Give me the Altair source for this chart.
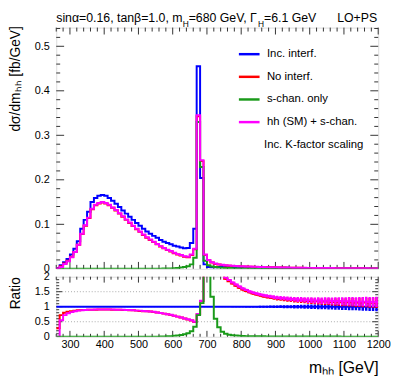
import altair as alt
import pandas as pd

FONT = "Liberation Sans"
BLUE, RED, GREEN, MAG = "#0000ff", "#ff0000", "#1a9a1a", "#ff00ff"
TICK = "#333333"

# ---------------- data ----------------
bin_lo = list(range(260, 1200, 10))   # lower bin edges, 10 GeV bins
x_hi = 1200

series = ["Inc. interf.", "No interf.", "s-chan. only", "hh (SM) + s-chan."]

# top panel, bins 260..700
inc_head = [0.002, 0.008, 0.015, 0.022, 0.032, 0.045, 0.062, 0.090, 0.110, 0.128,
            0.150, 0.159, 0.164, 0.166, 0.164, 0.159, 0.153, 0.146, 0.139, 0.131,
            0.124, 0.117, 0.110, 0.103, 0.097, 0.090, 0.084, 0.079, 0.074, 0.070,
            0.065, 0.061, 0.058, 0.055, 0.052, 0.050, 0.048, 0.046, 0.047, 0.058,
            0.090, 0.455, 0.204, 0.010, 0.004]
hh_head = [0.001, 0.004, 0.011, 0.017, 0.026, 0.038, 0.054, 0.079, 0.098, 0.115,
           0.135, 0.144, 0.148, 0.150, 0.148, 0.144, 0.138, 0.132, 0.125, 0.118,
           0.111, 0.104, 0.097, 0.090, 0.084, 0.077, 0.071, 0.066, 0.061, 0.056,
           0.051, 0.047, 0.043, 0.040, 0.036, 0.033, 0.031, 0.028, 0.027, 0.032,
           0.045, 0.345, 0.244, 0.032, 0.020]
noint_head = [0.001, 0.006, 0.012, 0.018, 0.027, 0.038, 0.054, 0.078, 0.097, 0.114,
              0.134, 0.143, 0.147, 0.149, 0.147, 0.143, 0.137, 0.131, 0.124, 0.117,
              0.110, 0.103, 0.096, 0.089, 0.083, 0.076, 0.070, 0.065, 0.060, 0.055,
              0.050, 0.046, 0.042, 0.039, 0.035, 0.032, 0.030, 0.027, 0.026, 0.031,
              0.044, 0.343, 0.242, 0.031, 0.019]
schan_head = [0.0, 0.0, 0.0, 0.0, 0.0, 0.0, 0.0, 0.0, 0.0, 0.0,
              0.0, 0.0, 0.0, 0.0, 0.0, 0.0, 0.0, 0.0, 0.0, 0.0,
              0.0, 0.0, 0.0, 0.0, 0.0, 0.0, 0.0, 0.0, 0.0, 0.0,
              0.0003, 0.0005, 0.0008, 0.001, 0.0015, 0.002, 0.003, 0.004, 0.006, 0.010,
              0.025, 0.330, 0.229, 0.018, 0.008]
# top panel, bins 710..1190
inc_tail = [0.0035, 0.0037, 0.0039, 0.0040, 0.0040, 0.0039, 0.0038, 0.0037, 0.0036, 0.0035,
            0.0034, 0.0033, 0.0032, 0.0031, 0.0030, 0.0029, 0.0028, 0.0027, 0.0026, 0.0025,
            0.0024, 0.0023, 0.0022, 0.0021, 0.0020, 0.0019, 0.0019, 0.0018, 0.0017, 0.0017,
            0.0016, 0.0015, 0.0015, 0.0014, 0.0014, 0.0013, 0.0013, 0.0012, 0.0012, 0.0011,
            0.0011, 0.0010, 0.0010, 0.0010, 0.0009, 0.0009, 0.0009, 0.0008, 0.0008]
hh_tail = [0.015, 0.012, 0.010, 0.009, 0.008, 0.0074, 0.0069, 0.0064, 0.0060, 0.0056,
           0.0053, 0.0050, 0.0047, 0.0045, 0.0042, 0.0040, 0.0038, 0.0036, 0.0034, 0.0033,
           0.0031, 0.0030, 0.0028, 0.0027, 0.0025, 0.0024, 0.0023, 0.0022, 0.0021, 0.0021,
           0.0020, 0.0019, 0.0018, 0.0017, 0.0017, 0.0016, 0.0015, 0.0015, 0.0014, 0.0013,
           0.0013, 0.0012, 0.0012, 0.0012, 0.0011, 0.0011, 0.0010, 0.0010, 0.0010]
noint_tail = [0.014, 0.011, 0.0095, 0.0085, 0.0077, 0.0071, 0.0066, 0.0062, 0.0058, 0.0054,
              0.0051, 0.0048, 0.0046, 0.0043, 0.0041, 0.0039, 0.0037, 0.0035, 0.0033, 0.0032,
              0.0030, 0.0029, 0.0027, 0.0026, 0.0024, 0.0023, 0.0022, 0.0021, 0.0021, 0.0020,
              0.0019, 0.0018, 0.0018, 0.0017, 0.0016, 0.0015, 0.0015, 0.0014, 0.0013, 0.0013,
              0.0012, 0.0012, 0.0011, 0.0011, 0.0011, 0.0010, 0.0010, 0.0009, 0.0009]
schan_tail = [0.005, 0.004, 0.003, 0.0025, 0.002, 0.0017, 0.0014, 0.0012, 0.0010, 0.0009,
              0.0008, 0.0007, 0.0006, 0.0005, 0.0005, 0.0004, 0.0004, 0.0004, 0.0003, 0.0003,
              0.0003, 0.0003, 0.0002, 0.0002, 0.0002, 0.0002, 0.0002, 0.0002, 0.0001, 0.0001,
              0.0001, 0.0001, 0.0001, 0.0001, 0.0001, 0.0001, 0.0001, 0.0001, 0.0001, 0.0001,
              0.0001, 0.0001, 0.0001, 0.0001, 0.0001, 0.0001, 0.0001, 0.0001, 0.0001]

# ratio panel (relative to Inc. interf.), bins 260..750
r_hh_head = [0.00, 0.55, 0.72, 0.78, 0.82, 0.85, 0.87, 0.88, 0.89, 0.90,
             0.90, 0.91, 0.91, 0.91, 0.91, 0.91, 0.91, 0.90, 0.90, 0.90,
             0.89, 0.89, 0.88, 0.87, 0.87, 0.86, 0.85, 0.84, 0.83, 0.81,
             0.79, 0.77, 0.75, 0.73, 0.70, 0.67, 0.64, 0.61, 0.58, 0.55,
             0.50, 0.76, 1.20, 3.2, 5.0, 4.3, 3.2, 2.6, 2.2, 1.97]
r_no_head = [0.28, 0.72, 0.80, 0.83, 0.85, 0.87, 0.88, 0.89, 0.89, 0.90,
             0.90, 0.90, 0.91, 0.91, 0.91, 0.91, 0.90, 0.90, 0.90, 0.89,
             0.89, 0.88, 0.88, 0.87, 0.86, 0.85, 0.85, 0.84, 0.82, 0.81,
             0.79, 0.77, 0.75, 0.72, 0.70, 0.67, 0.64, 0.61, 0.57, 0.54,
             0.49, 0.75, 1.19, 3.1, 5.0, 4.2, 3.1, 2.5, 2.1, 1.93]
r_s_head = [0.0, 0.0, 0.0, 0.0, 0.0, 0.0, 0.0, 0.0, 0.0, 0.0,
            0.0, 0.0, 0.0, 0.0, 0.0, 0.0, 0.0, 0.0, 0.0, 0.0,
            0.0, 0.0, 0.0, 0.0, 0.0, 0.0, 0.0, 0.0, 0.0, 0.0,
            0.01, 0.01, 0.02, 0.02, 0.03, 0.04, 0.06, 0.08, 0.12, 0.18,
            0.33, 0.72, 1.12, 4.0, 5.0, 1.33, 0.60, 0.32, 0.17, 0.10]
# ratio panel, bins 760..1190
r_hh_tail = [1.89, 1.81, 1.74, 1.67, 1.61, 1.56, 1.51, 1.47, 1.44, 1.41,
             1.38, 1.36, 1.34, 1.32, 1.30, 1.29, 1.28, 1.27, 1.26, 1.25,
             1.24, 1.24, 1.23, 1.22, 1.22, 1.21, 1.21, 1.20, 1.20, 1.20,
             1.19, 1.19, 1.19, 1.18, 1.18, 1.18, 1.18, 1.17, 1.17, 1.17,
             1.17, 1.16, 1.16, 1.16]
r_no_tail = [1.85, 1.77, 1.70, 1.63, 1.57, 1.52, 1.48, 1.44, 1.41, 1.38,
             1.35, 1.33, 1.31, 1.29, 1.27, 1.26, 1.25, 1.24, 1.23, 1.22,
             1.21, 1.21, 1.20, 1.19, 1.19, 1.18, 1.18, 1.17, 1.17, 1.17,
             1.16, 1.16, 1.16, 1.15, 1.15, 1.15, 1.15, 1.14, 1.14, 1.14,
             1.14, 1.13, 1.13, 1.13]
r_s_tail = [0.07, 0.05, 0.04, 0.03, 0.025, 0.02, 0.02, 0.018, 0.016, 0.015,
            0.014, 0.013, 0.012, 0.011, 0.010, 0.010, 0.009, 0.009, 0.008, 0.008,
            0.008, 0.007, 0.007, 0.007, 0.006, 0.006, 0.006, 0.006, 0.005, 0.005,
            0.005, 0.005, 0.005, 0.004, 0.004, 0.004, 0.004, 0.004, 0.004, 0.003,
            0.003, 0.003, 0.003, 0.003]
r_inc = [1.0] * 94

# statistical uncertainties on the ratios
err_inc_head = [0.003] * 40 + [0.005] * 10
err_inc_tail = [0.012, 0.014, 0.016, 0.018, 0.020, 0.022, 0.024, 0.026, 0.028, 0.030,
                0.032, 0.035, 0.038, 0.040, 0.042, 0.045, 0.048, 0.050, 0.053, 0.056,
                0.060, 0.063, 0.066, 0.070, 0.073, 0.076, 0.080, 0.083, 0.086, 0.090,
                0.094, 0.098, 0.100, 0.105, 0.110, 0.114, 0.118, 0.120, 0.125, 0.130,
                0.135, 0.140, 0.145, 0.150]
err_hh_head = [0.003] * 44 + [0.0] * 5 + [0.03]
err_hh_tail = [0.030, 0.032, 0.034, 0.036, 0.038, 0.040, 0.042, 0.044, 0.046, 0.048,
               0.050, 0.053, 0.056, 0.059, 0.062, 0.065, 0.068, 0.071, 0.074, 0.077,
               0.080, 0.084, 0.088, 0.092, 0.096, 0.100, 0.104, 0.108, 0.112, 0.116,
               0.120, 0.124, 0.128, 0.132, 0.136, 0.140, 0.144, 0.148, 0.152, 0.156,
               0.160, 0.164, 0.168, 0.172]

# axis ticks
x_major = [300, 400, 500, 600, 700, 800, 900, 1000, 1100, 1200]
x_minor = [v for v in range(260, 1200, 20) if v % 100 != 0]
yt_major = [0.1, 0.2, 0.3, 0.4, 0.5]
yt_minor = [round(0.02 * k, 2) for k in range(1, 28) if k % 5 != 0]
yr_major = [0.5, 1.0, 1.5]
yr_minor = [round(0.1 * k, 1) for k in range(1, 20) if k % 5 != 0]
yt_labels = [0, 0.1, 0.2, 0.3, 0.4, 0.5]
yr_labels = [0, 0.5, 1, 1.5, 2]
yr_grid = [0.5, 1.0, 1.5]

# ---------------- chart ----------------
W, HT, HR = 327, 245, 61
XS = alt.Scale(domain=[260, 1200], nice=False, zero=False)
YT = alt.Scale(domain=[0, 0.542], nice=False, zero=False)
YR = alt.Scale(domain=[0, 2.0], nice=False, zero=False)
CS = alt.Scale(domain=series, range=[BLUE, RED, GREEN, MAG])

YAX_T = alt.Axis(values=yt_labels, format="~g", ticks=False, domain=False, grid=False,
                 labelFontSize=11, labelPadding=7, labelFlush=False,
                 title="dσ/dmₕₕ [fb/GeV]", titleFontSize=14, titleFontWeight="normal",
                 titleX=-37, titleY=-2, titleAlign="right", titleAngle=270,
                 titleBaseline="alphabetic")
YAX_R = alt.Axis(values=yr_labels, format="~g", ticks=False, domain=False, grid=False,
                 labelFontSize=11, labelPadding=7, labelFlush=False,
                 title="Ratio", titleFontSize=14, titleFontWeight="normal",
                 titleX=-37, titleY=0, titleAlign="right", titleAngle=270,
                 titleBaseline="alphabetic")
XAX_R = alt.Axis(values=x_major, format="d", ticks=False, domain=False, grid=False,
                 labelFontSize=11, labelPadding=2, labelFlush=False, labelOverlap=False,
                 title="mₕₕ [GeV]", titleFontSize=16, titleFontWeight="normal",
                 titleX=W, titleY=36, titleAlign="right", titleAngle=0,
                 titleBaseline="alphabetic")
LEG = alt.Legend(title=None, orient="none", legendX=184, legendY=15, symbolType="stroke",
                 symbolSize=441, symbolStrokeWidth=2.5, labelFontSize=11.5, labelFont=FONT,
                 labelColor="black", labelOffset=6, rowPadding=5)


def step_df(vals, name):
    return pd.DataFrame({"m": bin_lo + [x_hi], "v": vals + [vals[-1]], "s": name})


def top_line(vals, name):
    return alt.Chart(step_df(vals, name)).mark_line(
        interpolate="step-after", strokeWidth=2, clip=True).encode(
        x=alt.X("m:Q", scale=XS, axis=None),
        y=alt.Y("v:Q", scale=YT, axis=YAX_T),
        color=alt.Color("s:N", scale=CS, legend=LEG))


def rat_line(vals, color):
    return alt.Chart(step_df(vals, "r")).mark_line(
        interpolate="step-after", strokeWidth=2, clip=True, color=color).encode(
        x=alt.X("m:Q", scale=XS, axis=XAX_R),
        y=alt.Y("v:Q", scale=YR, axis=YAX_R))


def rat_err(vals, errs, color):
    d = pd.DataFrame({"c": [b + 5 for b in bin_lo], "v": vals, "e": errs})
    return alt.Chart(d).transform_filter("datum.e > 0.008").transform_calculate(
        lo="datum.v - datum.e", hi="datum.v + datum.e").mark_rule(
        color=color, strokeWidth=2.5, clip=True).encode(
        x=alt.X("c:Q", scale=XS, axis=XAX_R),
        y=alt.Y("lo:Q", scale=YR, axis=YAX_R), y2="hi:Q")


def xticks(vals, length, h, axis):
    base = alt.Chart(pd.DataFrame({"t": vals})).mark_rule(color=TICK, strokeWidth=1)
    return [base.encode(x=alt.X("t:Q", scale=XS, axis=axis), y=alt.value(h), y2=alt.value(h - length)),
            base.encode(x=alt.X("t:Q", scale=XS, axis=axis), y=alt.value(0), y2=alt.value(length))]


def yticks(vals, length, scale, axis):
    base = alt.Chart(pd.DataFrame({"t": vals})).mark_rule(color=TICK, strokeWidth=1)
    return [base.encode(y=alt.Y("t:Q", scale=scale, axis=axis), x=alt.value(0), x2=alt.value(length)),
            base.encode(y=alt.Y("t:Q", scale=scale, axis=axis), x=alt.value(W), x2=alt.value(W - length))]


def txt(s, x, y, size, align="left", baseline="alphabetic"):
    return alt.Chart(pd.DataFrame({"t": [s]})).mark_text(
        align=align, baseline=baseline, fontSize=size, font=FONT, color="black").encode(
        text="t:N", x=alt.value(x), y=alt.value(y))


top_layers = (
    xticks(x_major, 7, HT, None) + xticks(x_minor, 4, HT, None)
    + yticks(yt_major, 8, YT, YAX_T) + yticks(yt_minor, 4, YT, YAX_T)
    + [top_line(inc_head + inc_tail, series[0]),
       top_line(noint_head + noint_tail, series[1]),
       top_line(schan_head + schan_tail, series[2]),
       top_line(hh_head + hh_tail, series[3])]
    + [txt("sinα=0.16, tanβ=1.0, m", 0, -6, 12.5),
       txt("H", 128.5, -1, 8.5),
       txt("=680 GeV, Γ", 134.5, -6, 12.5),
       txt("H", 205, -1, 8.5),
       txt("=6.1 GeV", 211, -6, 12.5),
       txt("LO+PS", 326, -6, 12.5, align="right"),
       txt("Inc. K-factor scaling", 211, 119, 11.5, baseline="middle")]
)
top = alt.layer(*top_layers).properties(width=W, height=HT)

grid = alt.Chart(pd.DataFrame({"g": yr_grid})).mark_rule(
    color="#aaaaaa", strokeDash=[1, 2], strokeWidth=1).encode(
    y=alt.Y("g:Q", scale=YR, axis=YAX_R), x=alt.value(0), x2=alt.value(W))

ratio_layers = (
    [grid]
    + xticks(x_major, 6, HR, XAX_R) + xticks(x_minor, 3, HR, XAX_R)
    + yticks(yr_major, 6, YR, YAX_R) + yticks(yr_minor, 3, YR, YAX_R)
    + [rat_line(r_inc, BLUE), rat_err(r_inc, err_inc_head + err_inc_tail, BLUE),
       rat_line(r_no_head + r_no_tail, RED), rat_err(r_no_head + r_no_tail, err_hh_head + err_hh_tail, RED),
       rat_line(r_hh_head + r_hh_tail, MAG), rat_err(r_hh_head + r_hh_tail, err_hh_head + err_hh_tail, MAG),
       rat_line(r_s_head + r_s_tail, GREEN)]
)
ratio = alt.layer(*ratio_layers).properties(width=W, height=HR)

chart = alt.vconcat(top, ratio, spacing=8, bounds="flush").resolve_scale(color="independent").properties(
    padding={"left": 0, "top": 0, "right": 0, "bottom": 0}
).configure_view(stroke="#777777", strokeWidth=1.5).configure_axis(
    labelFont=FONT, titleFont=FONT, labelColor="black", titleColor="black"
).configure(font=FONT)

chart.save("out.html", embed_options={"renderer": "svg", "actions": False})
